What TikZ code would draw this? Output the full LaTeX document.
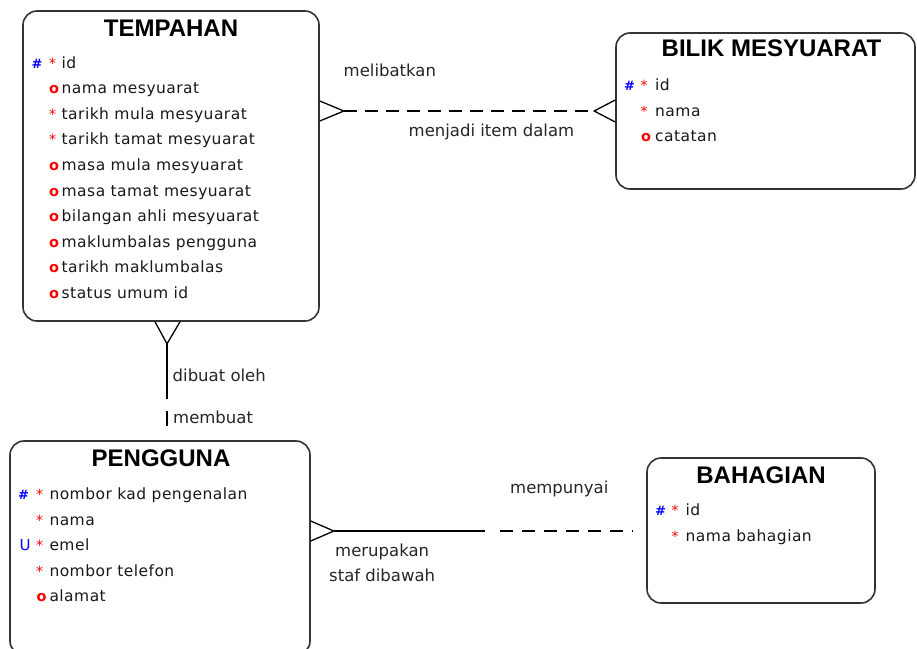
\documentclass[tikz,border=0pt]{standalone}
\usepackage{fontspec}
\newfontfamily\attrfont[LetterSpace=3]{DejaVu Sans}
\newfontfamily\lblfont{DejaVu Sans}
\newfontfamily\ttlfont{Liberation Sans}
\begin{document}
\begin{tikzpicture}[x=1pt,y=-1pt,
  ent/.style={draw=black!80, line width=1.6pt, rounded corners=14pt, inner sep=0pt, fill=white},
  ttl/.style={font=\ttlfont\bfseries\fontsize{24}{24}\selectfont, anchor=base, inner sep=0pt},
  att/.style={font=\attrfont\fontsize{15.5}{16}\selectfont, text=black!90, anchor=base west, inner sep=0pt},
  pkm/.style={font=\lblfont\bfseries\fontsize{13}{13}\selectfont, text=blue, anchor=base west, inner sep=0pt},
  mkm/.style={font=\lblfont\fontsize{14}{14}\selectfont, text=red, anchor=base west, inner sep=0pt},
  okm/.style={font=\lblfont\bfseries\fontsize{14.5}{15}\selectfont, text=red, anchor=base west, inner sep=0pt},
  lbl/.style={font=\lblfont\fontsize{16.5}{17}\selectfont, text=black!85, anchor=base west, inner sep=0pt},
  rel/.style={line width=1.3pt, draw=black},
  reldash/.style={rel, dash pattern=on 13pt off 8pt},
]
\path[use as bounding box, fill=white] (0,0) rectangle (917,648);

% entity boxes
\node (tmp) [ent, minimum width=296pt, minimum height=310pt] at (171,166) {};
\node (bil) [ent, minimum width=299pt, minimum height=156pt] at (765.5,111) {};
\node (pen) [ent, minimum width=300pt, minimum height=214pt] at (160,548) {};
\node (bah) [ent, minimum width=228pt, minimum height=145pt] at (761,530.5) {};

% titles
\node (tmpT) [ttl] at (171,36) {TEMPAHAN};
\node (bilT) [ttl] at (771.5,56) {BILIK MESYUARAT};
\node (penT) [ttl] at (161,466) {PENGGUNA};
\node (bahT) [ttl] at (761,483) {BAHAGIAN};

% TEMPAHAN attributes
\node (t0h) [pkm] at (31.5,68) {\#};
\node (t0s) [mkm] at (49,68) {*};
\node (t0) [att] at (61.5,68) {id};
\node (t1o) [okm] at (49,93.6) {o};
\node (t1) [att] at (61.5,93.6) {nama mesyuarat};
\node (t2s) [mkm] at (49,119.2) {*};
\node (t2) [att] at (61.5,119.2) {tarikh mula mesyuarat};
\node (t3s) [mkm] at (49,144.8) {*};
\node (t3) [att] at (61.5,144.8) {tarikh tamat mesyuarat};
\node (t4o) [okm] at (49,170.4) {o};
\node (t4) [att] at (61.5,170.4) {masa mula mesyuarat};
\node (t5o) [okm] at (49,196) {o};
\node (t5) [att] at (61.5,196) {masa tamat mesyuarat};
\node (t6o) [okm] at (49,221.6) {o};
\node (t6) [att] at (61.5,221.6) {bilangan ahli mesyuarat};
\node (t7o) [okm] at (49,247.2) {o};
\node (t7) [att] at (61.5,247.2) {maklumbalas pengguna};
\node (t8o) [okm] at (49,272.8) {o};
\node (t8) [att] at (61.5,272.8) {tarikh maklumbalas};
\node (t9o) [okm] at (49,298.4) {o};
\node (t9) [att] at (61.5,298.4) {status umum id};

% BILIK MESYUARAT attributes
\node (b0h) [pkm] at (624,90) {\#};
\node (b0s) [mkm] at (640.5,90) {*};
\node (b0) [att] at (655,90) {id};
\node (b1s) [mkm] at (640.5,116) {*};
\node (b1) [att] at (655,116) {nama};
\node (b2o) [okm] at (641,141.7) {o};
\node (b2) [att] at (655,141.7) {catatan};

% PENGGUNA attributes
\node (p0h) [pkm] at (18,499.3) {\#};
\node (p0s) [mkm] at (36,499.3) {*};
\node (p0) [att] at (49.3,499.3) {nombor kad pengenalan};
\node (p1s) [mkm] at (36,525) {*};
\node (p1) [att] at (49.3,525) {nama};
\node (p2u) [pkm, font=\lblfont\fontsize{15}{15}\selectfont] at (19.5,550.7) {U};
\node (p2s) [mkm] at (36,550.7) {*};
\node (p2) [att] at (49.3,550.7) {emel};
\node (p3s) [mkm] at (36,576) {*};
\node (p3) [att] at (49.3,576) {nombor telefon};
\node (p4o) [okm] at (36.5,601.7) {o};
\node (p4) [att] at (49.3,601.7) {alamat};

% BAHAGIAN attributes
\node (h0h) [pkm] at (655,515.7) {\#};
\node (h0s) [mkm] at (671.5,515.7) {*};
\node (h0) [att] at (685.5,515.7) {id};
\node (h1s) [mkm] at (671.5,541.7) {*};
\node (h1) [att] at (685.5,541.7) {nama bahagian};

% relationship TEMPAHAN -- BILIK MESYUARAT
\coordinate (r1a) at ([xshift=24pt]tmp.east |- bil.west);
\coordinate (r1b) at ([xshift=-21pt]bil.west);
\draw[rel] ([yshift=10pt]tmp.east |- bil.west) -- (r1a) -- ([yshift=-10pt]tmp.east |- bil.west);
\draw[reldash] (r1a) -- (r1b);
\draw[rel] ([yshift=11pt]bil.west) -- (r1b) -- ([yshift=-11pt]bil.west);
\node (l1) [lbl] at (343.5,76) {melibatkan};
\node (l2) [lbl] at (408.5,136) {menjadi item dalam};

% relationship TEMPAHAN -- PENGGUNA
\coordinate (vx) at (167,0);
\coordinate (r2a) at ([yshift=-22pt]tmp.south -| vx);
\coordinate (r2b) at ([yshift=-77pt]tmp.south -| vx);
\coordinate (r2c) at ([yshift=29pt]pen.north -| vx);
\coordinate (r2d) at ([yshift=14pt]pen.north -| vx);
\draw[rel] ([xshift=-12pt]tmp.south -| vx) -- (r2a) -- ([xshift=13pt]tmp.south -| vx);
\draw[rel] (r2a) -- (r2b);
\draw[rel] (r2c) -- (r2d);
\node (l3) [lbl] at (172.5,381) {dibuat oleh};
\node (l4) [lbl] at (173,423) {membuat};

% relationship PENGGUNA -- BAHAGIAN
\coordinate (ry) at (0,531);
\coordinate (r3a) at ([xshift=23pt]pen.east |- ry);
\coordinate (r3b) at (485,531);
\coordinate (r3c) at (500,531);
\coordinate (r3d) at (bah.west |- ry);
\draw[rel] ([yshift=10pt]pen.east |- ry) -- (r3a) -- ([yshift=-10pt]pen.east |- ry);
\draw[rel] (r3a) -- (r3b);
\draw[rel, dash pattern=on 13pt off 9pt] (r3c) -- ([xshift=-13pt]r3d);
\node (l5) [lbl] at (510,493) {mempunyai};
\node (l6) [lbl] at (335,556) {merupakan};
\node (l7) [lbl] at (329,581) {staf dibawah};
\end{tikzpicture}
\end{document}
